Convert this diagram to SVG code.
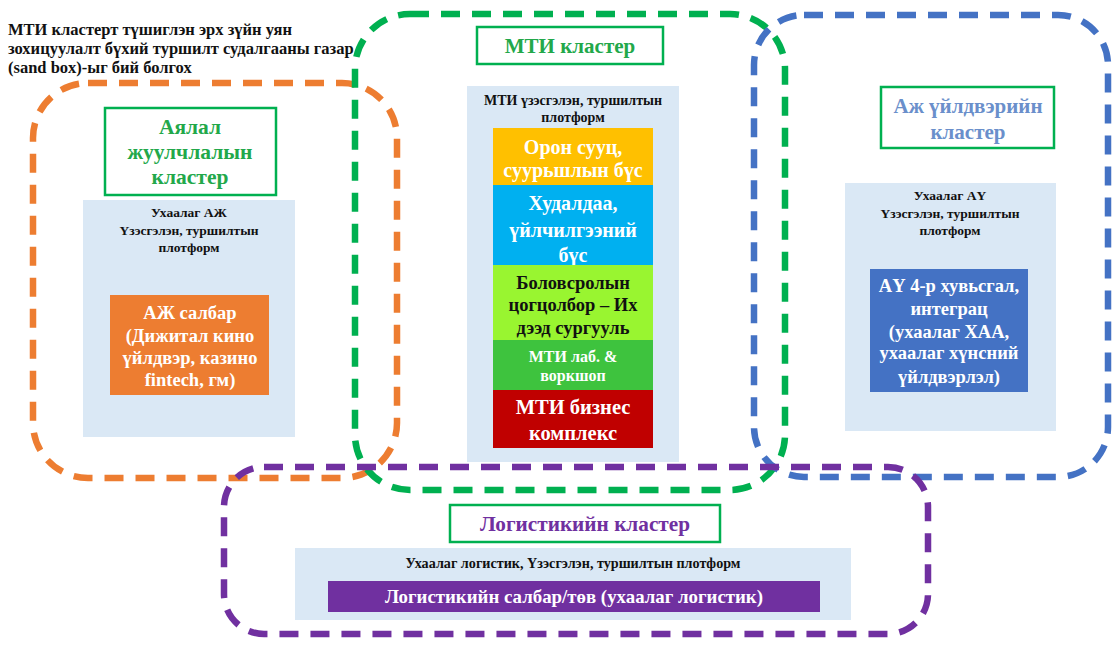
<svg xmlns="http://www.w3.org/2000/svg" width="1113" height="646" viewBox="0 0 1113 646" font-family="'Liberation Serif', 'DejaVu Serif', serif">
<style>
text{font-family:'Liberation Serif','DejaVu Serif',serif;font-weight:bold;text-anchor:middle}
.dash{fill:none;stroke-width:6.5;stroke-dasharray:19 12}
.title{fill:#fff;stroke:#00B050;stroke-width:2.5}
.panel{fill:#DAE8F5}
.hdr{font-size:13.5px;fill:#111}
.w{fill:#fff}
.big{font-size:20px}
.mid{font-size:18.5px}
.note{text-anchor:start;font-size:16.5px;fill:#111}
</style>
<rect width="1113" height="646" fill="#fff"/>
<g id="note">
<text class="note" x="8" y="35">МТИ кластерт түшиглэн эрх зүйн уян</text>
<text class="note" x="8" y="54">зохицуулалт бүхий туршилт судалгааны газар</text>
<text class="note" x="8" y="73">(sand box)-ыг бий болгох</text>
</g>
<g id="tourism">
<rect class="title" x="105" y="108" width="171" height="87"/>
<text x="190" y="134" font-size="21.5" fill="#22A84A">Аялал</text>
<text x="190" y="159" font-size="21.5" fill="#22A84A">жуулчлалын</text>
<text x="190" y="184" font-size="21.5" fill="#22A84A">кластер</text>
<rect class="panel" x="83" y="200" width="212" height="237"/>
<text class="hdr" x="189" y="217">Ухаалаг АЖ</text>
<text class="hdr" x="189" y="235">Үзэсгэлэн, туршилтын</text>
<text class="hdr" x="189" y="252">плотформ</text>
<rect x="110" y="295" width="159" height="100" fill="#ED7D31"/>
<text class="w mid" x="190" y="319">АЖ салбар</text>
<text class="w mid" x="190" y="342">(Дижитал кино</text>
<text class="w mid" x="190" y="364">үйлдвэр, казино</text>
<text class="w mid" x="190" y="386">fintech, гм)</text>
</g>
<g id="mti">
<rect class="title" x="477" y="27" width="186" height="37"/>
<text x="570" y="53" font-size="21" fill="#22A84A">МТИ кластер</text>
<rect class="panel" x="467" y="86" width="212" height="376"/>
<text class="hdr" x="573" y="105" style="font-size:14px">МТИ үзэсгэлэн, туршилтын</text>
<text class="hdr" x="573" y="122" style="font-size:14px">плотформ</text>
<rect x="493" y="128" width="160" height="57" fill="#FFC000"/>
<text class="w big" x="573" y="154">Орон сууц,</text>
<text class="w big" x="573" y="177">суурьшлын бүс</text>
<rect x="493" y="185" width="160" height="80" fill="#00B0F0"/>
<text class="w big" x="573" y="210">Худалдаа,</text>
<text class="w big" x="573" y="237">үйлчилгээний</text>
<text class="w big" x="573" y="262">бүс</text>
<rect x="493" y="265" width="160" height="75" fill="#99F530"/>
<text x="573" y="289" style="font-size:18.5px" fill="#111">Боловсролын</text>
<text x="573" y="311" style="font-size:18.5px" fill="#111">цогцолбор – Их</text>
<text x="573" y="334" style="font-size:18.5px" fill="#111">дээд сургууль</text>
<rect x="493" y="340" width="160" height="50" fill="#3EC33E"/>
<text class="w" x="573" y="362" style="font-size:16px">МТИ лаб. &amp;</text>
<text class="w" x="573" y="381" style="font-size:16px">воркшоп</text>
<rect x="493" y="390" width="160" height="58" fill="#C00000"/>
<text class="w" x="573" y="414" style="font-size:20.5px">МТИ бизнес</text>
<text class="w" x="573" y="440" style="font-size:20.5px">комплекс</text>
</g>
<g id="industry">
<rect class="title" x="881" y="87" width="173" height="61"/>
<text x="968" y="113" font-size="21" fill="#6A8FCB">Аж үйлдвэрийн</text>
<text x="968" y="139" font-size="21" fill="#6A8FCB">кластер</text>
<rect class="panel" x="845" y="183" width="211" height="248"/>
<text class="hdr" x="950" y="200">Ухаалаг АҮ</text>
<text class="hdr" x="950" y="218">Үзэсгэлэн, туршилтын</text>
<text class="hdr" x="950" y="235">плотформ</text>
<rect x="870" y="269" width="158" height="123" fill="#4472C4"/>
<text class="w mid" x="949" y="292">АҮ 4-р хувьсгал,</text>
<text class="w mid" x="949" y="315">интеграц</text>
<text class="w mid" x="949" y="338">(ухаалаг ХАА,</text>
<text class="w mid" x="949" y="359">ухаалаг хүнсний</text>
<text class="w mid" x="949" y="383">үйлдвэрлэл)</text>
</g>
<g id="logistics">
<rect class="title" x="450" y="505" width="270" height="37"/>
<text x="585" y="531" font-size="22" fill="#7030A0" textLength="210" lengthAdjust="spacingAndGlyphs">Логистикийн кластер</text>
<rect class="panel" x="295" y="548" width="556" height="72"/>
<text class="hdr" x="573" y="568" style="font-size:14px" textLength="335" lengthAdjust="spacingAndGlyphs">Ухаалаг логистик, Үзэсгэлэн, туршилтын плотформ</text>
<rect x="328" y="581" width="492" height="31" fill="#7030A0"/>
<text class="w" x="574" y="603" style="font-size:19px" textLength="378" lengthAdjust="spacingAndGlyphs">Логистикийн салбар/төв (ухаалаг логистик)</text>
</g>
<g id="connectors">
<rect class="dash" x="33" y="83" width="364" height="395" rx="55" stroke="#ED7D31"/>
<rect class="dash" x="355" y="14" width="430" height="476" rx="55" stroke="#00B050"/>
<rect class="dash" x="754" y="15" width="354" height="462" rx="50" stroke="#4472C4"/>
<rect class="dash" x="224" y="467" width="704" height="167" rx="40" stroke="#7030A0"/>
</g>
</svg>
